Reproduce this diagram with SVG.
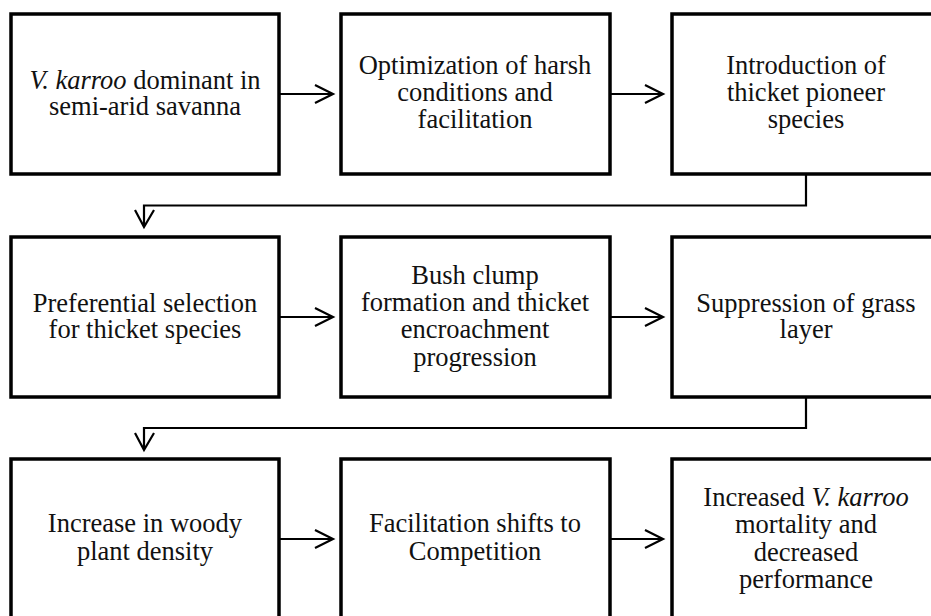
<svg xmlns="http://www.w3.org/2000/svg" width="931" height="616" viewBox="0 0 931 616">
<style>
.box{fill:#fff;stroke:#000;stroke-width:3.5}
.t{font-family:'Liberation Serif','Times New Roman',serif;font-size:26.5px;fill:#111;text-anchor:middle}
.i{font-style:italic}
.c{fill:none;stroke:#000;stroke-width:2.2}
</style>
<rect width="931" height="616" fill="#fff"/>
<g id="connectors">
<path class="c" d="M279,94 H333 M315,85 L333,94 L315,103"/>
<path class="c" d="M610,94 H663 M645,85 L663,94 L645,103"/>
<path class="c" d="M806,174 V205.5 H144 V227 M135,210 L144,227 L154,210"/>
<path class="c" d="M279,317 H333 M315,308 L333,317 L315,326"/>
<path class="c" d="M610,317 H663 M645,308 L663,317 L645,326"/>
<path class="c" d="M806,397 V428 H144 V450 M135,433 L144,450 L154,433"/>
<path class="c" d="M279,539 H333 M315,530 L333,539 L315,548"/>
<path class="c" d="M610,539 H663 M645,530 L663,539 L645,548"/>
</g>
<g id="n1"><rect class="box" x="11" y="14" width="268" height="160"/>
<text class="t" x="145" y="89"><tspan class="i">V. karroo</tspan> dominant in<tspan x="145" dy="26">semi-arid savanna</tspan></text></g>
<g id="n2"><rect class="box" x="341" y="14" width="269" height="160"/>
<text class="t" x="475" y="74">Optimization of harsh<tspan x="475" dy="27">conditions and</tspan><tspan x="475" dy="27">facilitation</tspan></text></g>
<g id="n3"><rect class="box" x="672" y="14" width="270" height="160"/>
<text class="t" x="806" y="74">Introduction of<tspan x="806" dy="27">thicket pioneer</tspan><tspan x="806" dy="27">species</tspan></text></g>
<g id="n4"><rect class="box" x="11" y="237" width="268" height="160"/>
<text class="t" x="145" y="312">Preferential selection<tspan x="145" dy="26">for thicket species</tspan></text></g>
<g id="n5"><rect class="box" x="341" y="237" width="269" height="160"/>
<text class="t" x="475" y="284">Bush clump<tspan x="475" dy="27">formation and thicket</tspan><tspan x="475" dy="27">encroachment</tspan><tspan x="475" dy="28">progression</tspan></text></g>
<g id="n6"><rect class="box" x="672" y="237" width="270" height="160"/>
<text class="t" x="806" y="312">Suppression of grass<tspan x="806" dy="26">layer</tspan></text></g>
<g id="n7"><rect class="box" x="11" y="459" width="268" height="165"/>
<text class="t" x="145" y="532">Increase in woody<tspan x="145" dy="28">plant density</tspan></text></g>
<g id="n8"><rect class="box" x="341" y="459" width="269" height="165"/>
<text class="t" x="475" y="532">Facilitation shifts to<tspan x="475" dy="28">Competition</tspan></text></g>
<g id="n9"><rect class="box" x="672" y="459" width="270" height="165"/>
<text class="t" x="806" y="506">Increased <tspan class="i">V. karroo</tspan><tspan x="806" dy="27">mortality and</tspan><tspan x="806" dy="28">decreased</tspan><tspan x="806" dy="27">performance</tspan></text></g>
</svg>
